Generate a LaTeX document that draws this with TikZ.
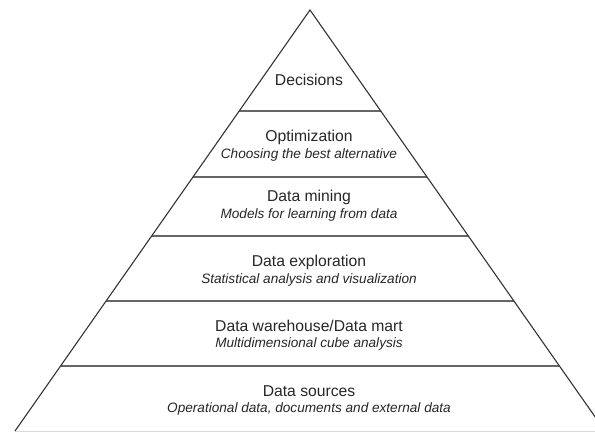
\documentclass[tikz,border=0pt]{standalone}
\usepackage{fontspec}
\setmainfont{Liberation Sans}
\usetikzlibrary{positioning}

\begin{document}
\begin{tikzpicture}[x=1pt, y=-1pt,
    % Styles
    edge/.style={draw=black!80, line width=1.1pt},
    layer/.style={draw=black!60, line width=1.6pt},
    base/.style={draw=black!15, line width=1pt},
    title/.style={font=\fontsize{15.7}{18}\selectfont, text=black!85},
    sub/.style={font=\fontsize{13.6}{16}\selectfont\itshape, text=black!85},
]
\useasboundingbox (0,0) rectangle (595,432);

% Pyramid outline
\coordinate (apex) at (310,10);
\coordinate (baseL) at (15,431);
\coordinate (baseR) at (605,431);
\draw[base] (baseL) -- (baseR);

% Layer separators
\foreach \yy/\nm in {111/a, 177/b, 236/c, 301/d, 366/e} {
    \coordinate (sep\nm-l) at ({310-0.7*(\yy-10)}, \yy);
    \coordinate (sep\nm-r) at ({310+0.7*(\yy-10)}, \yy);
    \draw[layer] (sep\nm-l) -- (sep\nm-r);
}
\draw[edge, line join=miter] (baseL) -- (apex) -- (baseR);

% Labels
\node[title] (decisions) at (309,80) {Decisions};

\node[title] (optim) at (309,137) {Optimization};
\node[sub] (optimsub) at (309,155) {Choosing the best alternative};

\node[title] (mining) at (309,197) {Data mining};
\node[sub] (miningsub) at (309,215) {Models for learning from data};

\node[title] (explore) at (309,262) {Data exploration};
\node[sub] (exploresub) at (309,280) {Statistical analysis and visualization};

\node[title] (warehouse) at (309,326) {Data warehouse/Data mart};
\node[sub] (warehousesub) at (309,344) {Multidimensional cube analysis};

\node[title] (sources) at (309,391) {Data sources};
\node[sub] (sourcessub) at (309,409) {Operational data, documents and external data};

\end{tikzpicture}
\end{document}
